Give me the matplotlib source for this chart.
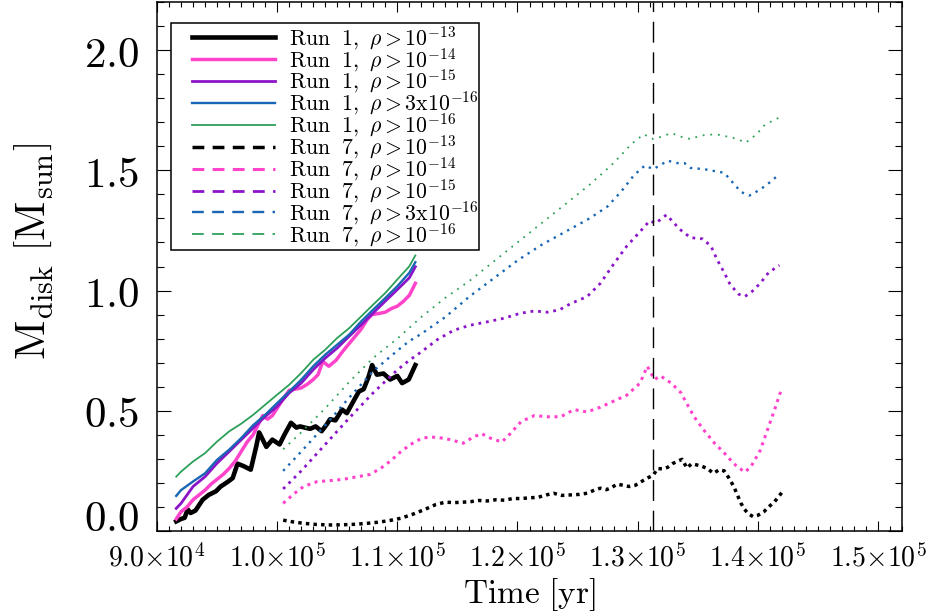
import numpy as np
import matplotlib
matplotlib.use("Agg")
import matplotlib.pyplot as plt
from matplotlib.ticker import MultipleLocator, FuncFormatter
from matplotlib.lines import Line2D
from matplotlib.legend_handler import HandlerLine2D

plt.rcParams['mathtext.fontset'] = 'cm'
plt.rcParams['lines.scale_dashes'] = False

# ---- Run 1 (solid lines), disk mass above each density cut ----
t_run1 = [91600, 92000, 93000, 94000, 95000, 96000, 97000, 98000, 99000, 100000,
          101000, 102000, 103000, 104000, 105000, 106000, 107000, 108000, 109000,
          110000, 111000, 111500]
r1_m16 = [0.226, 0.247, 0.289, 0.324, 0.372, 0.414, 0.446, 0.483, 0.525, 0.567,
          0.608, 0.657, 0.712, 0.754, 0.803, 0.844, 0.893, 0.942, 0.990, 1.046,
          1.101, 1.146]
r1_3m16 = [0.146, 0.170, 0.206, 0.240, 0.296, 0.338, 0.386, 0.440, 0.483, 0.532,
           0.580, 0.629, 0.685, 0.733, 0.775, 0.817, 0.872, 0.921, 0.969, 1.018,
           1.074, 1.118]
r1_m15 = [0.094, 0.115, 0.185, 0.226, 0.282, 0.330, 0.379, 0.428, 0.476, 0.518,
          0.574, 0.615, 0.671, 0.719, 0.761, 0.810, 0.858, 0.907, 0.956, 1.004,
          1.053, 1.099]

t_r1_m14 = [91600, 92000, 92500, 93000, 93500, 94000, 94500, 95000, 95500, 96000,
            96500, 97000, 97500, 98000, 98400, 98800, 99200, 99600, 100000, 100500,
            101000, 101500, 102000, 102500, 103000, 103400, 103800, 104300, 104900,
            105500, 106000, 106500, 107000, 107500, 107900, 108500, 109000, 109500,
            110000, 110500, 111000, 111500]
r1_m14 = [0.05, 0.08, 0.10, 0.13, 0.15, 0.17, 0.195, 0.215, 0.235, 0.26,
          0.29, 0.33, 0.37, 0.40, 0.44, 0.48, 0.465, 0.48, 0.51, 0.55,
          0.585, 0.59, 0.595, 0.61, 0.63, 0.65, 0.705, 0.685, 0.71,
          0.75, 0.78, 0.81, 0.84, 0.88, 0.90, 0.905, 0.91, 0.925,
          0.935, 0.955, 0.98, 1.03]

t_r1_m13 = [91600, 92000, 92300, 92550, 92800, 93200, 93800, 94300, 94900, 95300,
            95900, 96300, 96700, 97200, 97800, 98250, 98500, 99100, 99600, 100200,
            100600, 101150, 101600, 101900, 102300, 102750, 103200, 103700, 104150,
            104400, 104850, 105400, 105800, 106350, 106800, 107200, 107600, 107900,
            108300, 108850, 109400, 110000, 110400, 110950, 111500]
r1_m13 = [0.04, 0.05, 0.055, 0.09, 0.075, 0.085, 0.13, 0.15, 0.165, 0.185,
          0.205, 0.22, 0.28, 0.27, 0.255, 0.35, 0.41, 0.35, 0.38, 0.36,
          0.40, 0.45, 0.43, 0.435, 0.43, 0.425, 0.435, 0.415, 0.445,
          0.465, 0.46, 0.505, 0.49, 0.54, 0.58, 0.59, 0.64, 0.69,
          0.65, 0.655, 0.63, 0.645, 0.615, 0.63, 0.69]

# ---- Run 7 (dotted lines) ----
t_r7_m16 = [100500, 102000, 104000, 106000, 108000, 110000, 112000, 114000, 116000,
            118000, 120000, 122000, 124000, 126000, 128000, 129500, 130500, 131300,
            132000, 132800, 133600, 134400, 135300, 136500, 137500, 138300, 139000,
            139900, 140600, 141400, 142000]
r7_m16 = [0.34, 0.41, 0.51, 0.62, 0.72, 0.80, 0.89, 0.97, 1.04,
          1.12, 1.20, 1.28, 1.36, 1.44, 1.53, 1.61, 1.65, 1.63,
          1.64, 1.655, 1.64, 1.63, 1.645, 1.65, 1.64, 1.63, 1.615,
          1.65, 1.69, 1.71, 1.725]

t_r7_3m16 = [100500, 102000, 104000, 106000, 108000, 110000, 111000, 112000, 114000,
             116000, 118000, 120000, 122000, 124000, 126000, 127500, 128600, 129700,
             130600, 131300, 132000, 132500, 133300, 133900, 134400, 135500, 136600,
             137200, 137900, 138600, 139300, 140200, 141000, 141700]
r7_3m16 = [0.25, 0.33, 0.44, 0.555, 0.665, 0.75, 0.79, 0.82, 0.89,
           0.975, 1.05, 1.125, 1.19, 1.245, 1.30, 1.35, 1.41, 1.48,
           1.52, 1.505, 1.525, 1.54, 1.53, 1.53, 1.51, 1.505, 1.495,
           1.49, 1.45, 1.41, 1.395, 1.42, 1.45, 1.48]

t_r7_m15 = [100500, 102000, 104000, 106000, 108000, 110000, 111000, 112000, 113300,
            114700, 116000, 117500, 118900, 120200, 121400, 122500, 123500, 124400,
            125800, 126900, 128000, 129100, 130200, 131000, 131500, 132400, 133500,
            134400, 135400, 136100, 136600, 137200, 137700, 138400, 138900, 139400,
            140200, 140900, 141800]
r7_m15 = [0.175, 0.25, 0.36, 0.47, 0.575, 0.67, 0.71, 0.745, 0.795,
          0.835, 0.855, 0.87, 0.885, 0.905, 0.915, 0.91, 0.92, 0.945,
          0.975, 1.03, 1.11, 1.185, 1.245, 1.29, 1.28, 1.315, 1.255,
          1.22, 1.215, 1.185, 1.13, 1.075, 1.025, 0.985, 0.975, 0.99,
          1.03, 1.075, 1.105]

t_r7_m14 = [100500, 101400, 102200, 103300, 104500, 105500, 106600, 107700, 108600,
            109400, 110300, 111100, 112000, 112600, 113300, 114400, 115500, 116300,
            117000, 117800, 118700, 119400, 120300, 121400, 122500, 123600, 124700,
            125800, 126900, 128000, 129100, 130200, 130800, 131400, 131900, 132800,
            133600, 134200, 134700, 135500, 136400, 137200, 138000, 138900, 139400,
            140200, 140800, 141400, 142000]
r7_m14 = [0.115, 0.155, 0.185, 0.205, 0.21, 0.215, 0.225, 0.235, 0.26,
          0.29, 0.33, 0.36, 0.385, 0.39, 0.39, 0.38, 0.365, 0.39,
          0.405, 0.385, 0.37, 0.405, 0.455, 0.48, 0.475, 0.475, 0.505,
          0.495, 0.515, 0.54, 0.565, 0.615, 0.685, 0.63, 0.645, 0.615,
          0.575, 0.52, 0.475, 0.42, 0.365, 0.325, 0.28, 0.245, 0.265,
          0.335, 0.42, 0.505, 0.595]

t_r7_m13 = [100500, 101300, 102200, 103300, 104500, 105500, 106500, 107500, 108500,
            109400, 110300, 111300, 112300, 113200, 114000, 114700, 115500, 116100,
            116800, 117500, 118200, 118900, 119600, 120300, 121000, 121700, 122400,
            123000, 123700, 124400, 125100, 125800, 126400, 126900, 127400, 127800,
            128300, 128800, 129300, 129800, 130300, 130800, 131300, 131650, 132100,
            132500, 132900, 133300, 133700, 134100, 134500, 134900, 135300, 135800,
            136300, 136800, 137200, 137600, 138000, 138300, 138600, 138900, 139200,
            139600, 140000, 140500, 140900, 141400, 142000]
r7_m13 = [0.045, 0.038, 0.032, 0.027, 0.025, 0.026, 0.028, 0.032, 0.037,
          0.044, 0.053, 0.07, 0.09, 0.11, 0.12, 0.118, 0.12, 0.122,
          0.127, 0.125, 0.13, 0.128, 0.135, 0.135, 0.138, 0.14, 0.15,
          0.157, 0.148, 0.15, 0.152, 0.157, 0.17, 0.178, 0.172, 0.18,
          0.195, 0.19, 0.185, 0.19, 0.205, 0.22, 0.232, 0.26, 0.258,
          0.265, 0.28, 0.29, 0.298, 0.262, 0.28, 0.275, 0.27, 0.26,
          0.24, 0.255, 0.25, 0.22, 0.185, 0.15, 0.115, 0.09, 0.072,
          0.06, 0.065, 0.08, 0.10, 0.122, 0.16]

t_marker = 131300  # vertical reference time

cuts = ['10^{-13}', '10^{-14}', '10^{-15}', '3x10^{-16}', '10^{-16}']
labels_r1 = [r'$\mathrm{Run\ \ 1,\ }\rho\mathrm{{>}%s}$' % c for c in cuts]
labels_r7 = [r'$\mathrm{Run\ \ 7,\ }\rho\mathrm{{>}%s}$' % c for c in cuts]

colors = ['black', '#ff44cc', '#8c14c8', '#1866b4', '#2ca05a']
lw_solid = [3.3, 2.5, 2.0, 1.7, 1.3]
lw_dot = [2.5, 2.2, 2.0, 1.7, 1.3]

fig = plt.figure(figsize=(9.34, 6.16), dpi=100)
ax = fig.add_axes([157/934, 85/616, 745/934, 529/616])

run1 = [(t_r1_m13, r1_m13), (t_r1_m14, r1_m14), (t_run1, r1_m15),
        (t_run1, r1_3m16), (t_run1, r1_m16)]
run7 = [(t_r7_m13, r7_m13), (t_r7_m14, r7_m14), (t_r7_m15, r7_m15),
        (t_r7_3m16, r7_3m16), (t_r7_m16, r7_m16)]

for (t, m), c, lw in zip(run1, colors, lw_solid):
    ax.plot(t, m, color=c, lw=lw, solid_joinstyle='round')
for (t, m), c, lw in zip(run7, colors, lw_dot):
    ax.plot(t, m, color=c, lw=lw, linestyle=(0, (lw, 5.5 - lw)))

ax.axvline(t_marker, color='black', lw=1.0, linestyle=(0, (15, 7)))

ax.set_xlim(90000, 152000)
ax.set_ylim(0, 2.2)

ax.xaxis.set_major_locator(MultipleLocator(10000))
ax.xaxis.set_minor_locator(MultipleLocator(1000))
ax.yaxis.set_major_locator(MultipleLocator(0.5))
ax.yaxis.set_minor_locator(MultipleLocator(0.1))


def sci_label(v, pos):
    e = int(np.floor(np.log10(v)))
    return r'$\mathrm{%.1f{\times}10^{%d}}$' % (v / 10**e, e)


ax.xaxis.set_major_formatter(FuncFormatter(sci_label))
ax.yaxis.set_major_formatter(FuncFormatter(lambda v, p: r'$\mathrm{%.1f}$' % v))

ax.tick_params(which='both', direction='in', top=True, right=True, width=0.8)
ax.tick_params(axis='x', which='major', length=7.2, labelsize=20, pad=9)
ax.tick_params(axis='x', which='minor', length=3.6)
ax.tick_params(axis='y', which='major', length=10, labelsize=31, pad=13)
ax.tick_params(axis='y', which='minor', length=5)
for s in ax.spines.values():
    s.set_linewidth(1.1)

ax.set_xlabel(r'$\mathrm{Time\ [yr]}$', fontsize=24, labelpad=3)
ax.set_ylabel(r'$\mathrm{M_{disk}\ \left[M_{sun}\right]}$', fontsize=31)
ax.yaxis.set_label_coords(-0.137, 0.529)

fig.canvas.draw()
# keep the bottom label inside the frame
for tick in ax.yaxis.get_major_ticks():
    if abs(tick.get_loc()) < 1e-9:
        tick.label1.set_va('baseline')

handles = [Line2D([], [], color=c, lw=lw) for c, lw in zip(colors, lw_solid)]
handles += [Line2D([], [], color=c, lw=lw, linestyle=(0, (8.5, 6)))
            for c, lw in zip(colors, lw_dot)]
leg = ax.legend(handles, labels_r1 + labels_r7, loc='upper left',
                bbox_to_anchor=(14/745, 508/529), borderaxespad=0,
                fontsize=15.7, handlelength=4.7, handletextpad=0.64,
                labelspacing=-0.27, borderpad=0.05, fancybox=False,
                framealpha=1, edgecolor='black',
                handler_map={Line2D: HandlerLine2D(xpad=0.92)})
leg.get_frame().set_linewidth(1.1)

plt.savefig('out.png', dpi=100)
